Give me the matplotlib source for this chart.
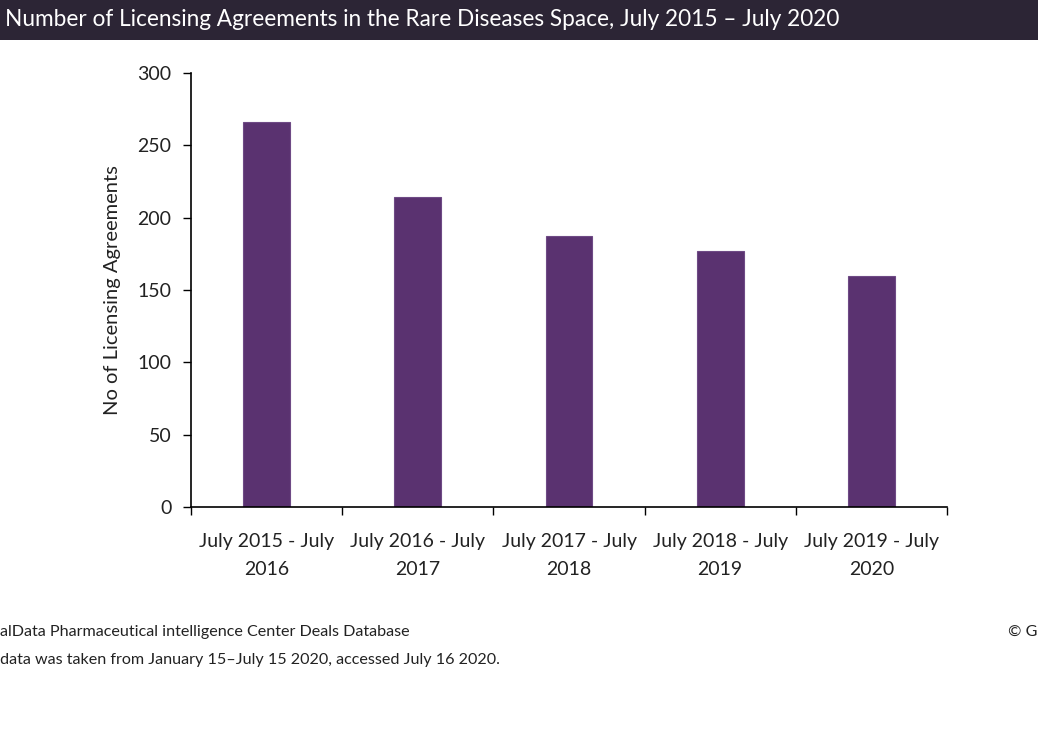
import numpy as np
import matplotlib.pyplot as plt
from matplotlib.patches import Rectangle

# data
periods = ['July 2015 - July\n2016', 'July 2016 - July\n2017', 'July 2017 - July\n2018',
           'July 2018 - July\n2019', 'July 2019 - July\n2020']
agreements = [266, 214, 187, 177, 160]
y_ticks = [0, 50, 100, 150, 200, 250, 300]

plt.rcParams['font.family'] = ['Lato', 'DejaVu Sans']

fig = plt.figure(figsize=(10.38, 7.48), dpi=100)

# title banner
fig.patches.append(Rectangle((0, 1 - 40 / 748), 1, 40 / 748, transform=fig.transFigure,
                             facecolor='#2c2535', edgecolor='none', zorder=0))
fig.text(5 / 1038, 1 - 20 / 748, 'Number of Licensing Agreements in the Rare Diseases Space, July 2015 \u2013 July 2020',
         color='white', fontsize=16.3, va='center', ha='left')

ax = fig.add_axes([191 / 1038, 1 - 507 / 748, (947 - 191) / 1038, (507 - 73) / 748])
x = np.arange(len(periods))
ax.bar(x, agreements, width=0.31, color='#5a3270', edgecolor='#6e4a85', linewidth=0.8)

ax.set_xlim(-0.5, len(periods) - 0.5)
ax.set_ylim(0, 300)
ax.set_yticks(y_ticks)
ax.set_xticks(x)
ax.set_xticklabels(periods, fontsize=14, color='#222222', linespacing=1.75)
ax.set_xticks(np.arange(-0.5, len(periods)), minor=True)
ax.tick_params(axis='x', which='major', length=0, pad=19)
ax.tick_params(axis='x', which='minor', length=6, width=1)
ax.tick_params(axis='y', length=6, width=1, labelsize=14, labelcolor='#222222', pad=8)
ax.set_ylabel('No of Licensing Agreements', fontsize=14.5, color='#222222', labelpad=12)

for s in ['top', 'right']:
    ax.spines[s].set_visible(False)
for s in ['left', 'bottom']:
    ax.spines[s].set_linewidth(1.2)

# footnotes
fig.text(0, 1 - 632 / 748, 'alData Pharmaceutical intelligence Center Deals Database',
         fontsize=11.6, color='#222222', va='center')
fig.text(0, 1 - 660 / 748, 'data was taken from January 15\u2013July 15 2020, accessed July 16 2020.',
         fontsize=11.6, color='#222222', va='center')
fig.text(1008 / 1038, 1 - 632 / 748, '\u00a9 G', fontsize=11.6, color='#222222', va='center')

fig.savefig('out.png', dpi=100)
